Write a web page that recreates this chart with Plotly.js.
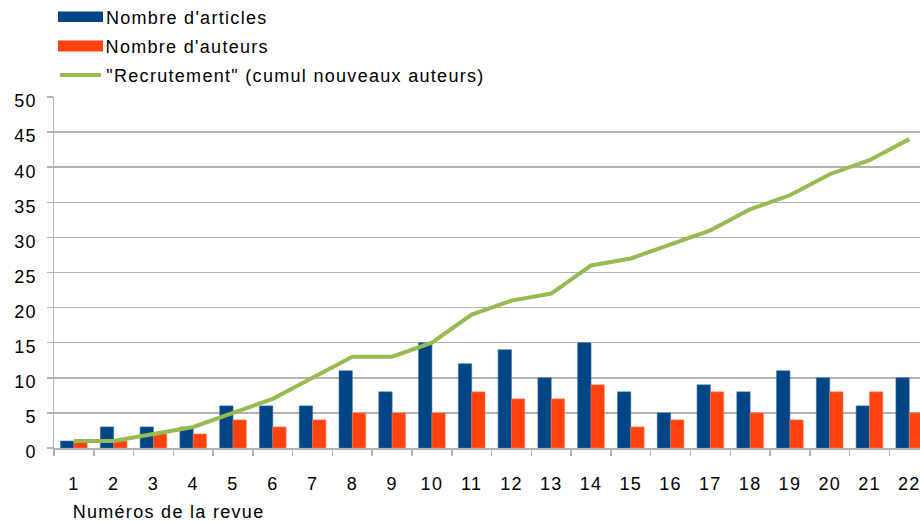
<!DOCTYPE html>
<html>
<head>
<meta charset="utf-8">
<script src="https://cdn.plot.ly/plotly-3.0.1.min.js"></script>
<style>
html,body{margin:0;padding:0;background:#fff;}
#chart{width:920px;height:523px;}
#chart text{letter-spacing:1.3px;}
</style>
</head>
<body>
<div id="chart"></div>
<script>
const issues = ["1","2","3","4","5","6","7","8","9","10","11","12","13","14","15","16","17","18","19","20","21","22"];
const articles = [1,3,3,3,6,6,6,11,8,15,12,14,10,15,8,5,9,8,11,10,6,10];
const authors = [1,1,2,2,4,3,4,5,5,5,8,7,7,9,3,4,8,5,4,8,8,5];
const recruitment = [1,1,2,3,5,7,10,13,13,15,19,21,22,26,27,29,31,34,36,39,41,44];
const seriesNames = ["Nombre d'articles", "Nombre d'auteurs", "\"Recrutement\" (cumul nouveaux auteurs)"];
const yTicks = [0,5,10,15,20,25,30,35,40,45,50];
const xTitle = "Numéros de la revue";

const colors = ["#004586", "#ff420e", "#97bb50"];
const FONT = "Liberation Sans, Arial, sans-serif";
const LS = 1.3; // letter spacing applied by CSS (not measured by Plotly)

const traces = [
  {type:"bar", x:issues, y:articles, name:seriesNames[0], marker:{color:colors[0], line:{color:"#3a6da3", width:0.6}}, showlegend:false},
  {type:"bar", x:issues, y:authors, name:seriesNames[1], marker:{color:colors[1], line:{color:"#ff7a55", width:0.6}}, showlegend:false},
  {type:"scatter", mode:"lines", x:issues, y:recruitment, name:seriesNames[2], line:{color:colors[2], width:4}, showlegend:false}
];

// custom legend (symbols as shapes, names as annotations)
const rowOffsets = [80, 51, 22]; // pixels above top of plot area
const shapes = [
  {type:"rect", xref:"paper", yref:"paper", xsizemode:"pixel", ysizemode:"pixel", xanchor:0, yanchor:1,
   x0:4, x1:49, y0:rowOffsets[0]-5, y1:rowOffsets[0]+5.5, fillcolor:colors[0], line:{width:0}},
  {type:"rect", xref:"paper", yref:"paper", xsizemode:"pixel", ysizemode:"pixel", xanchor:0, yanchor:1,
   x0:4, x1:49, y0:rowOffsets[1]-5.5, y1:rowOffsets[1]+5.5, fillcolor:colors[1], line:{width:0}},
  {type:"line", xref:"paper", yref:"paper", xsizemode:"pixel", ysizemode:"pixel", xanchor:0, yanchor:1,
   x0:6, x1:47, y0:rowOffsets[2], y1:rowOffsets[2], line:{color:colors[2], width:4}}
];
const annotations = seriesNames.map((n,i)=>({
  text:n, xref:"paper", yref:"paper", x:0, y:1, xanchor:"left", yanchor:"middle",
  xshift:50 + LS*n.length/2, yshift:rowOffsets[i]-1, showarrow:false, font:{family:FONT, size:18, color:"#000"}
}));
annotations.push({text:xTitle, xref:"paper", yref:"paper", x:0, y:0, xanchor:"left", yanchor:"middle",
  xshift:17 + LS*xTitle.length/2, yshift:-64, showarrow:false, font:{family:FONT, size:18, color:"#000"}});

const layout = {
  width:920, height:523,
  margin:{l:54, r:0, t:97, b:75, pad:0},
  paper_bgcolor:"#fff", plot_bgcolor:"#fff",
  font:{family:FONT, size:18, color:"#000"},
  barmode:"group", bargap:0.33, bargroupgap:0,
  showlegend:false,
  xaxis:{type:"category", range:[-0.5, 21.27], tickson:"boundaries", ticks:"outside", ticklen:6, tickcolor:"#b3b3b3", tickwidth:1.5,
    showline:true, linecolor:"#b3b3b3", linewidth:1.5, showgrid:false, zeroline:false,
    tickfont:{family:FONT, size:18, color:"#000"}, ticklabelstandoff:19, fixedrange:true},
  yaxis:{range:[0,50], tickvals:yTicks, ticktext:yTicks.map(String), ticks:"outside", ticklen:6, tickcolor:"#b3b3b3", tickwidth:1.5,
    showline:true, linecolor:"#b3b3b3", linewidth:1.5, showgrid:true, gridcolor:"#b3b3b3", gridwidth:1.5, zeroline:false,
    tickfont:{family:FONT, size:18, color:"#000"}, ticklabelstandoff:6, ticklabelshift:4, fixedrange:true},
  shapes:shapes,
  annotations:annotations
};

Plotly.newPlot("chart", traces, layout, {staticPlot:true, displayModeBar:false});
</script>
</body>
</html>
